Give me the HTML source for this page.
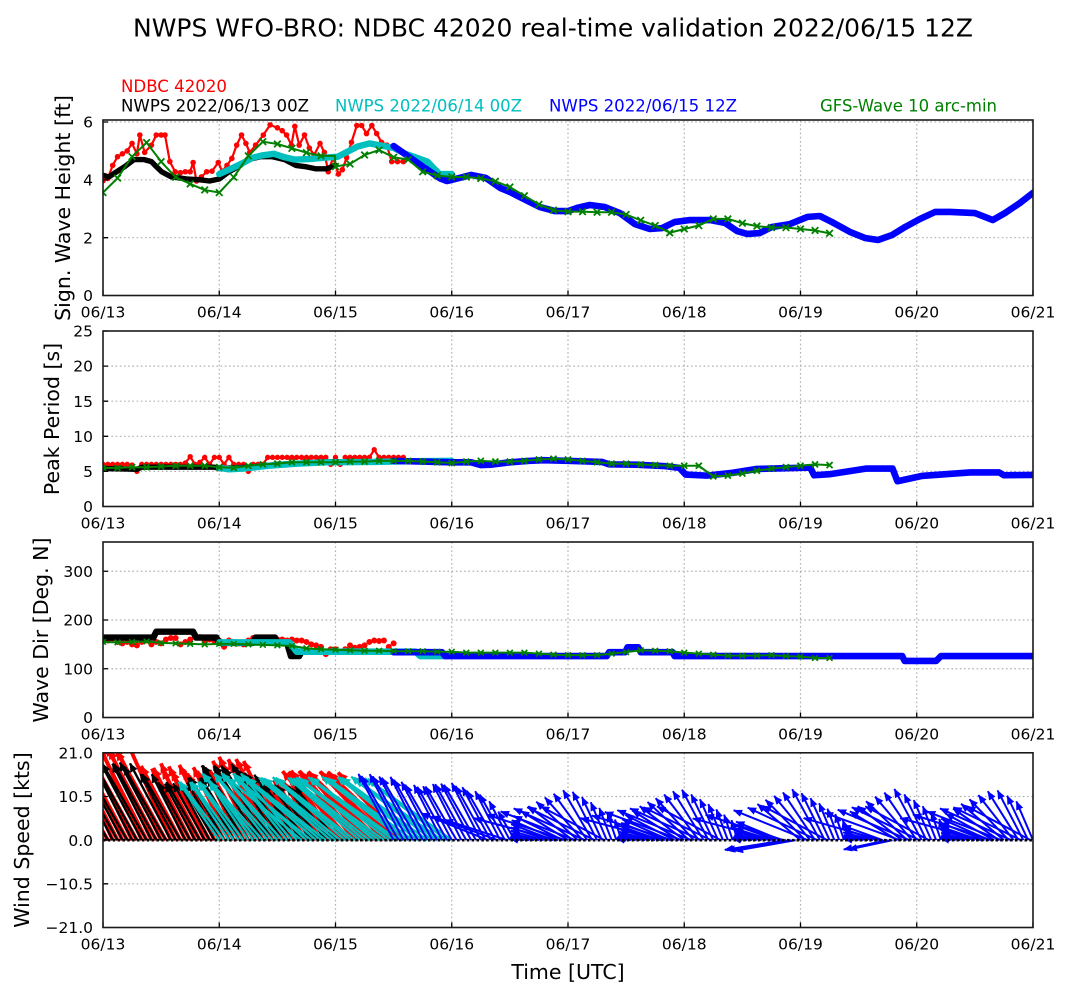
<!DOCTYPE html>
<html><head><meta charset="utf-8">
<style>
html,body{margin:0;padding:0;background:#fff;}
svg{display:block;font-family:"DejaVu Sans","Liberation Sans",sans-serif;}
.d path{vector-effect:non-scaling-stroke;}
</style></head>
<body>
<svg width="1071" height="998" viewBox="0 0 1071 998" xmlns="http://www.w3.org/2000/svg">
<defs>
<clipPath id="c0"><rect x="103" y="120" width="930" height="175.5"/></clipPath>
<clipPath id="c1"><rect x="103" y="331" width="930" height="175.5"/></clipPath>
<clipPath id="c2"><rect x="103" y="542" width="930" height="175.5"/></clipPath>
<clipPath id="c3"><rect x="103" y="752.8" width="930" height="174.7"/></clipPath>
<marker id="mr" viewBox="0 0 10 9" markerWidth="10" markerHeight="9" refX="9.5" refY="4.5" orient="auto" markerUnits="userSpaceOnUse"><path d="M0,0L10,4.5L0,9z" fill="#ff0000"/></marker>
<marker id="mk" viewBox="0 0 9 8" markerWidth="9" markerHeight="8" refX="8.5" refY="4" orient="auto" markerUnits="userSpaceOnUse"><path d="M0,0L9,4L0,8z" fill="#000000"/></marker>
<marker id="mc" viewBox="0 0 9 8" markerWidth="9" markerHeight="8" refX="8.5" refY="4" orient="auto" markerUnits="userSpaceOnUse"><path d="M0,0L9,4L0,8z" fill="#00bfbf"/></marker>
<marker id="mb" viewBox="0 0 9 7.5" markerWidth="9" markerHeight="7.5" refX="8.5" refY="3.75" orient="auto" markerUnits="userSpaceOnUse"><path d="M0,0L9,3.75L0,7.5z" fill="#0000ff"/></marker>
</defs>
<rect x="0" y="0" width="1071" height="998" fill="#fff"/>

<!-- GRID -->
<g stroke="#b0b0b0" stroke-width="1.2" stroke-dasharray="1.6 2.6">
<path d="M219.25,120V295.5M335.5,120V295.5M451.75,120V295.5M568,120V295.5M684.25,120V295.5M800.5,120V295.5M916.75,120V295.5M103,237.7H1033M103,179.8H1033M103,122H1033"/>
<path d="M219.25,331V506.5M335.5,331V506.5M451.75,331V506.5M568,331V506.5M684.25,331V506.5M800.5,331V506.5M916.75,331V506.5M103,471.4H1033M103,436.3H1033M103,401.2H1033M103,366.1H1033"/>
<path d="M219.25,542V717.5M335.5,542V717.5M451.75,542V717.5M568,542V717.5M684.25,542V717.5M800.5,542V717.5M916.75,542V717.5M103,668.75H1033M103,620H1033M103,571.25H1033"/>
<path d="M219.25,752.8V927.5M335.5,752.8V927.5M451.75,752.8V927.5M568,752.8V927.5M684.25,752.8V927.5M800.5,752.8V927.5M916.75,752.8V927.5M103,883.8H1033M103,796.5H1033"/>
</g>

<!-- PANEL 1: Hs -->
<g clip-path="url(#c0)">
<g class="d" transform="translate(103,295.5) scale(4.84375,-28.913)" fill="none" stroke-linejoin="round" stroke-linecap="round">
<path stroke="#ff0000" stroke-width="2.2" d="M0,3.97L1,4.05L2,4.5L3,4.8L4,4.9L5,5L6,5.26L7,4.9L7.6,5.55L8.6,4.95L10,5.2L11,5.55L12,5.55L12.8,5.55L13.8,4.63L14.9,4.28L16,4.25L17,4.28L18,4.28L18.6,4.6L19.3,3.96L20.3,4.1L21.4,4.28L22.5,4.3L23.8,4.6L24.6,4.3L25.6,4.5L26.6,4.74L27.6,5.2L28.6,5.55L29.5,5.26L30.3,4.95L31.5,5.2L33.1,5.55L34.5,5.9L36,5.8L37,5.7L37.9,5.55L38.9,5.2L39.6,5.85L40.5,5.2L41.6,5.55L42.6,5.1L43.6,4.86L44.8,5.26L45.7,4.95L46.5,4.28L47.5,4.77L48.6,4.2L49.4,4.35L50.3,4.77L51.3,5.3L52.4,5.88L53.4,5.88L54.4,5.6L55.5,5.88L56.5,5.6L57.5,5.3L58.6,5.2L59.6,4.63L60.8,4.63L62,4.63"/>
<path stroke="#ff0000" stroke-width="5.6" d="M0,3.97h0M1,4.05h0M2,4.5h0M3,4.8h0M4,4.9h0M5,5h0M6,5.26h0M7,4.9h0M7.6,5.55h0M8.6,4.95h0M10,5.2h0M11,5.55h0M12,5.55h0M12.8,5.55h0M13.8,4.63h0M14.9,4.28h0M16,4.25h0M17,4.28h0M18,4.28h0M18.6,4.6h0M19.3,3.96h0M20.3,4.1h0M21.4,4.28h0M22.5,4.3h0M23.8,4.6h0M24.6,4.3h0M25.6,4.5h0M26.6,4.74h0M27.6,5.2h0M28.6,5.55h0M29.5,5.26h0M30.3,4.95h0M31.5,5.2h0M33.1,5.55h0M34.5,5.9h0M36,5.8h0M37,5.7h0M37.9,5.55h0M38.9,5.2h0M39.6,5.85h0M40.5,5.2h0M41.6,5.55h0M42.6,5.1h0M43.6,4.86h0M44.8,5.26h0M45.7,4.95h0M46.5,4.28h0M47.5,4.77h0M48.6,4.2h0M49.4,4.35h0M50.3,4.77h0M51.3,5.3h0M52.4,5.88h0M53.4,5.88h0M54.4,5.6h0M55.5,5.88h0M56.5,5.6h0M57.5,5.3h0M58.6,5.2h0M59.6,4.63h0M60.8,4.63h0M62,4.63h0"/>
<path stroke="#000000" stroke-width="5.4" d="M0,4.16L1.2,4.1L2.8,4.28L4.5,4.46L6.4,4.7L8.5,4.7L10,4.63L11,4.46L12.1,4.28L14,4.11L17.2,4.03L20,4L22,3.96L24,4.03L26,4.28L28,4.46L30,4.7L32.5,4.8L35,4.8L37.5,4.7L39.8,4.5L42,4.45L44,4.38L46.1,4.38L48,4.5"/>
<path stroke="#00bfbf" stroke-width="6.4" d="M24,4.2L26,4.35L28.5,4.55L31,4.77L33,4.85L35.3,4.9L37.5,4.78L39.6,4.7L42.5,4.72L46,4.77L48.5,4.8L50.2,4.95L52.5,5.15L55,5.26L57,5.2L60,5.1L62.5,4.9L67,4.63L68,4.45L69.5,4.2L72,4.2"/>
<path stroke="#0000ff" stroke-width="6.6" d="M60,5.17L62.6,4.86L66,4.46L69.6,4.05L71,3.96L73.7,4.07L76,4.17L79,4.07L82,3.72L84,3.58L86,3.41L90.2,3.06L93.3,2.92L96,2.92L97.9,3.03L100.5,3.13L103.6,3.06L106.7,2.85L109.8,2.47L112.9,2.3L115.4,2.33L118,2.54L121.2,2.61L125.3,2.61L128.4,2.51L130.9,2.23L133,2.13L135.6,2.16L138.1,2.37L141.8,2.47L145.5,2.72L148,2.75L150.5,2.54L154.2,2.2L157.3,1.99L160,1.92L162.9,2.09L165.6,2.37L168.7,2.65L171.8,2.89L174.9,2.89L180,2.85L182,2.72L183.7,2.61L186.2,2.85L189.3,3.2L192,3.55"/>
<path stroke="#008000" stroke-width="2" d="M0,3.56L3,4.06L6,4.8L9,5.29L12,4.63L15,4.09L18,3.86L21,3.65L24,3.56L27,4.09L30,4.83L33,5.32L36,5.24L39,5.09L42,4.94L45,4.83L47.9,4.83L48,4.46L51,4.55L54,4.86L57,5.03L60,4.78L63,4.7L66,4.28L69,4.15L72,4.1L75,4.1L78,4.05L81,3.95L84,3.75L87,3.45L90,3.15L93,2.95L96,2.9L99,2.9L102,2.88L105,2.88L108,2.8L111,2.6L114,2.42L117,2.17L120,2.3L123,2.42L126,2.65L129,2.65L132,2.5L135,2.4L138,2.35L141,2.35L144,2.3L147,2.25L150,2.15"/>
<path stroke="#008000" stroke-width="1.8" stroke-linecap="butt" d="M0,3.56m-.68,-.114l1.36,.228m0,-.228l-1.36,.228M3,4.06m-.68,-.114l1.36,.228m0,-.228l-1.36,.228M6,4.8m-.68,-.114l1.36,.228m0,-.228l-1.36,.228M9,5.29m-.68,-.114l1.36,.228m0,-.228l-1.36,.228M12,4.63m-.68,-.114l1.36,.228m0,-.228l-1.36,.228M15,4.09m-.68,-.114l1.36,.228m0,-.228l-1.36,.228M18,3.86m-.68,-.114l1.36,.228m0,-.228l-1.36,.228M21,3.65m-.68,-.114l1.36,.228m0,-.228l-1.36,.228M24,3.56m-.68,-.114l1.36,.228m0,-.228l-1.36,.228M27,4.09m-.68,-.114l1.36,.228m0,-.228l-1.36,.228M30,4.83m-.68,-.114l1.36,.228m0,-.228l-1.36,.228M33,5.32m-.68,-.114l1.36,.228m0,-.228l-1.36,.228M36,5.24m-.68,-.114l1.36,.228m0,-.228l-1.36,.228M39,5.09m-.68,-.114l1.36,.228m0,-.228l-1.36,.228M42,4.94m-.68,-.114l1.36,.228m0,-.228l-1.36,.228M45,4.83m-.68,-.114l1.36,.228m0,-.228l-1.36,.228M48,4.46m-.68,-.114l1.36,.228m0,-.228l-1.36,.228M51,4.55m-.68,-.114l1.36,.228m0,-.228l-1.36,.228M54,4.86m-.68,-.114l1.36,.228m0,-.228l-1.36,.228M57,5.03m-.68,-.114l1.36,.228m0,-.228l-1.36,.228M60,4.78m-.68,-.114l1.36,.228m0,-.228l-1.36,.228M63,4.7m-.68,-.114l1.36,.228m0,-.228l-1.36,.228M66,4.28m-.68,-.114l1.36,.228m0,-.228l-1.36,.228M69,4.15m-.68,-.114l1.36,.228m0,-.228l-1.36,.228M72,4.1m-.68,-.114l1.36,.228m0,-.228l-1.36,.228M75,4.1m-.68,-.114l1.36,.228m0,-.228l-1.36,.228M78,4.05m-.68,-.114l1.36,.228m0,-.228l-1.36,.228M81,3.95m-.68,-.114l1.36,.228m0,-.228l-1.36,.228M84,3.75m-.68,-.114l1.36,.228m0,-.228l-1.36,.228M87,3.45m-.68,-.114l1.36,.228m0,-.228l-1.36,.228M90,3.15m-.68,-.114l1.36,.228m0,-.228l-1.36,.228M93,2.95m-.68,-.114l1.36,.228m0,-.228l-1.36,.228M96,2.9m-.68,-.114l1.36,.228m0,-.228l-1.36,.228M99,2.9m-.68,-.114l1.36,.228m0,-.228l-1.36,.228M102,2.88m-.68,-.114l1.36,.228m0,-.228l-1.36,.228M105,2.88m-.68,-.114l1.36,.228m0,-.228l-1.36,.228M108,2.8m-.68,-.114l1.36,.228m0,-.228l-1.36,.228M111,2.6m-.68,-.114l1.36,.228m0,-.228l-1.36,.228M114,2.42m-.68,-.114l1.36,.228m0,-.228l-1.36,.228M117,2.17m-.68,-.114l1.36,.228m0,-.228l-1.36,.228M120,2.3m-.68,-.114l1.36,.228m0,-.228l-1.36,.228M123,2.42m-.68,-.114l1.36,.228m0,-.228l-1.36,.228M126,2.65m-.68,-.114l1.36,.228m0,-.228l-1.36,.228M129,2.65m-.68,-.114l1.36,.228m0,-.228l-1.36,.228M132,2.5m-.68,-.114l1.36,.228m0,-.228l-1.36,.228M135,2.4m-.68,-.114l1.36,.228m0,-.228l-1.36,.228M138,2.35m-.68,-.114l1.36,.228m0,-.228l-1.36,.228M141,2.35m-.68,-.114l1.36,.228m0,-.228l-1.36,.228M144,2.3m-.68,-.114l1.36,.228m0,-.228l-1.36,.228M147,2.25m-.68,-.114l1.36,.228m0,-.228l-1.36,.228M150,2.15m-.68,-.114l1.36,.228m0,-.228l-1.36,.228"/>
</g></g>

<!-- PANEL 2: Tp -->
<g clip-path="url(#c1)">
<g class="d" transform="translate(103,506.5) scale(4.84375,-7.02)" fill="none" stroke-linejoin="round" stroke-linecap="round">
<path stroke="#ff0000" stroke-width="2.2" d="M0,6L1,6L2,6L3,6L4,6L5,6L6,5.9L7,5L8,6L9,6L10,6L11,6L12,6L13,6L14,6L15,6L16,6L17,6.2L18,7.1L19,6L20,6.3L21,7L22,6L23,7L24,7L25,6L26,7L27,6L28,6L29,6L30,5L31,6L32,6L33,6L34,7L35,7L36,7L37,7L38,7L39,7L40,7L41,7L42,7L43,7L44,7L45,7L46,7L47,6L48,7L49,6L50,7L51,7L52,7L53,7L54,7L55,7L56,8.1L57,7L58,7L59,7L60,7L61,7L62,7"/>
<path stroke="#ff0000" stroke-width="5.4" d="M0,6h0M1,6h0M2,6h0M3,6h0M4,6h0M5,6h0M6,5.9h0M7,5h0M8,6h0M9,6h0M10,6h0M11,6h0M12,6h0M13,6h0M14,6h0M15,6h0M16,6h0M17,6.2h0M18,7.1h0M19,6h0M20,6.3h0M21,7h0M22,6h0M23,7h0M24,7h0M25,6h0M26,7h0M27,6h0M28,6h0M29,6h0M30,5h0M31,6h0M32,6h0M33,6h0M34,7h0M35,7h0M36,7h0M37,7h0M38,7h0M39,7h0M40,7h0M41,7h0M42,7h0M43,7h0M44,7h0M45,7h0M46,7h0M47,6h0M48,7h0M49,6h0M50,7h0M51,7h0M52,7h0M53,7h0M54,7h0M55,7h0M56,8.1h0M57,7h0M58,7h0M59,7h0M60,7h0M61,7h0M62,7h0"/>
<path stroke="#000000" stroke-width="5.4" d="M0,5.4L7,5.3L8,5.6L23,5.6L24,5.4L30,5.6L36,6L42,6.2L48,6.4"/>
<path stroke="#00bfbf" stroke-width="6.4" d="M24,5.5L26,5.3L29,5.4L34,5.8L40,6.1L46,6.3L56,6.35L64,6.45L72,6.5"/>
<path stroke="#0000ff" stroke-width="6.6" d="M60,6.5L72,6.3L76,6.3L78,5.9L80,5.95L84,6.3L88,6.5L91,6.6L96,6.5L103,6.35L104.5,6L110,5.95L116,5.75L119,5.5L120.3,4.55L124.6,4.4L130,4.8L135,5.35L146,5.55L146.8,4.45L150,4.6L157.5,5.4L163,5.4L164,3.6L169,4.35L179,4.85L185,4.85L186,4.45L192,4.5"/>
<path stroke="#008000" stroke-width="2" d="M0,5.5L3,5.5L6,5.6L9,5.6L12,5.7L15,5.8L18,5.8L21,5.8L24,5.6L27,5.5L30,5.8L33,6L36,6.1L39,6.3L42,6.3L45,6.3L48,6.3L51,6.4L54,6.4L57,6.5L60,6.5L63,6.5L66,6.4L69,6.3L72,6.2L75,6.4L78,6.5L81,6.4L84,6.4L87,6.5L90,6.7L93,6.8L96,6.7L99,6.5L102,6.3L105,6.1L108,6.1L111,6L114,5.9L117,5.8L120,5.8L123,5.8L126,4.3L129,4.4L132,4.7L135,5.1L138,5.4L141,5.6L144,5.8L147,6L150,5.9"/>
<path stroke="#008000" stroke-width="1.8" stroke-linecap="butt" d="M0,5.5m-.62,-.43l1.24,.86m0,-.86l-1.24,.86M3,5.5m-.62,-.43l1.24,.86m0,-.86l-1.24,.86M6,5.6m-.62,-.43l1.24,.86m0,-.86l-1.24,.86M9,5.6m-.62,-.43l1.24,.86m0,-.86l-1.24,.86M12,5.7m-.62,-.43l1.24,.86m0,-.86l-1.24,.86M15,5.8m-.62,-.43l1.24,.86m0,-.86l-1.24,.86M18,5.8m-.62,-.43l1.24,.86m0,-.86l-1.24,.86M21,5.8m-.62,-.43l1.24,.86m0,-.86l-1.24,.86M24,5.6m-.62,-.43l1.24,.86m0,-.86l-1.24,.86M27,5.5m-.62,-.43l1.24,.86m0,-.86l-1.24,.86M30,5.8m-.62,-.43l1.24,.86m0,-.86l-1.24,.86M33,6m-.62,-.43l1.24,.86m0,-.86l-1.24,.86M36,6.1m-.62,-.43l1.24,.86m0,-.86l-1.24,.86M39,6.3m-.62,-.43l1.24,.86m0,-.86l-1.24,.86M42,6.3m-.62,-.43l1.24,.86m0,-.86l-1.24,.86M45,6.3m-.62,-.43l1.24,.86m0,-.86l-1.24,.86M48,6.3m-.62,-.43l1.24,.86m0,-.86l-1.24,.86M51,6.4m-.62,-.43l1.24,.86m0,-.86l-1.24,.86M54,6.4m-.62,-.43l1.24,.86m0,-.86l-1.24,.86M57,6.5m-.62,-.43l1.24,.86m0,-.86l-1.24,.86M60,6.5m-.62,-.43l1.24,.86m0,-.86l-1.24,.86M63,6.5m-.62,-.43l1.24,.86m0,-.86l-1.24,.86M66,6.4m-.62,-.43l1.24,.86m0,-.86l-1.24,.86M69,6.3m-.62,-.43l1.24,.86m0,-.86l-1.24,.86M72,6.2m-.62,-.43l1.24,.86m0,-.86l-1.24,.86M75,6.4m-.62,-.43l1.24,.86m0,-.86l-1.24,.86M78,6.5m-.62,-.43l1.24,.86m0,-.86l-1.24,.86M81,6.4m-.62,-.43l1.24,.86m0,-.86l-1.24,.86M84,6.4m-.62,-.43l1.24,.86m0,-.86l-1.24,.86M87,6.5m-.62,-.43l1.24,.86m0,-.86l-1.24,.86M90,6.7m-.62,-.43l1.24,.86m0,-.86l-1.24,.86M93,6.8m-.62,-.43l1.24,.86m0,-.86l-1.24,.86M96,6.7m-.62,-.43l1.24,.86m0,-.86l-1.24,.86M99,6.5m-.62,-.43l1.24,.86m0,-.86l-1.24,.86M102,6.3m-.62,-.43l1.24,.86m0,-.86l-1.24,.86M105,6.1m-.62,-.43l1.24,.86m0,-.86l-1.24,.86M108,6.1m-.62,-.43l1.24,.86m0,-.86l-1.24,.86M111,6m-.62,-.43l1.24,.86m0,-.86l-1.24,.86M114,5.9m-.62,-.43l1.24,.86m0,-.86l-1.24,.86M117,5.8m-.62,-.43l1.24,.86m0,-.86l-1.24,.86M120,5.8m-.62,-.43l1.24,.86m0,-.86l-1.24,.86M123,5.8m-.62,-.43l1.24,.86m0,-.86l-1.24,.86M126,4.3m-.62,-.43l1.24,.86m0,-.86l-1.24,.86M129,4.4m-.62,-.43l1.24,.86m0,-.86l-1.24,.86M132,4.7m-.62,-.43l1.24,.86m0,-.86l-1.24,.86M135,5.1m-.62,-.43l1.24,.86m0,-.86l-1.24,.86M138,5.4m-.62,-.43l1.24,.86m0,-.86l-1.24,.86M141,5.6m-.62,-.43l1.24,.86m0,-.86l-1.24,.86M144,5.8m-.62,-.43l1.24,.86m0,-.86l-1.24,.86M147,6m-.62,-.43l1.24,.86m0,-.86l-1.24,.86M150,5.9m-.62,-.43l1.24,.86m0,-.86l-1.24,.86"/>
</g></g>

<!-- PANEL 3: Dir -->
<g clip-path="url(#c2)">
<g class="d" transform="translate(103,717.5) scale(4.84375,-0.4875)" fill="none" stroke-linejoin="round" stroke-linecap="round">
<path stroke="#ff0000" stroke-width="6" d="M0,160h0M1,158h0M2,162h0M3,155h0M4,152h0M5,155h0M6,150h0M7,148h0M8,155h0M9,158h0M10,150h0M11,155h0M12,152h0M13,160h0M14,163h0M15,163h0M16,150h0M17,155h0M18,160h0M19,170h0M20,165h0M21,158h0M22,160h0M23,157h0M24,158h0M25,145h0M26,158h0M27,155h0M28,152h0M29,150h0M30,158h0M31,163h0M32,160h0M33,158h0M34,160h0M35,158h0M36,160h0M37,160h0M38,158h0M39,160h0M40,158h0M41,158h0M42,155h0M43,150h0M44,148h0M45,145h0M46,130h0M47,140h0M48,140h0M49,135h0M50,140h0M51,148h0M52,143h0M53,145h0M54,148h0M55,155h0M56,158h0M57,157h0M58,158h0M59,145h0M60,152h0"/>
<path stroke="#000000" stroke-width="6.4" d="M0,164L10.4,164L11,176L18.6,176L19.2,164L23.4,164L24,153L31,153L31.5,164L35.5,164L36,153L38,153L38.8,126L40.5,126L41,135L48,135"/>
<path stroke="#00bfbf" stroke-width="6.6" d="M24,154L38.5,154L40,135L64.5,135L65.5,126L71,126"/>
<path stroke="#0000ff" stroke-width="6.6" d="M60,134L70,134L70.6,126L104,126L104.5,134L107.8,134L108.3,144L110.5,144L111,134L117.6,134L118,126L165,126L165.5,116L172,116L173,126L192,126"/>
<path stroke="#008000" stroke-width="2" d="M0,155L3,154L6,155L9,156L12,153L15,152L18,151L21,150L24,151L27,151L30,150L33,149L36,148L39,147L42,142L45,140L48,139L51,138L54,137L57,137L60,136L63,136L66,136L69,135L72,135L75,133L78,133L81,133L84,133L87,133L90,131L93,129L96,128L99,128L102,128L105,131L108,134L111,138L114,137L117,136L120,133L123,131L126,129L129,127L132,127L135,127L138,128L141,126L144,125L147,122L150,122"/>
<path stroke="#008000" stroke-width="1.6" stroke-linecap="butt" d="M0,155m-.6,-5.7l1.2,11.4m0,-11.4l-1.2,11.4M3,154m-.6,-5.7l1.2,11.4m0,-11.4l-1.2,11.4M6,155m-.6,-5.7l1.2,11.4m0,-11.4l-1.2,11.4M9,156m-.6,-5.7l1.2,11.4m0,-11.4l-1.2,11.4M12,153m-.6,-5.7l1.2,11.4m0,-11.4l-1.2,11.4M15,152m-.6,-5.7l1.2,11.4m0,-11.4l-1.2,11.4M18,151m-.6,-5.7l1.2,11.4m0,-11.4l-1.2,11.4M21,150m-.6,-5.7l1.2,11.4m0,-11.4l-1.2,11.4M24,151m-.6,-5.7l1.2,11.4m0,-11.4l-1.2,11.4M27,151m-.6,-5.7l1.2,11.4m0,-11.4l-1.2,11.4M30,150m-.6,-5.7l1.2,11.4m0,-11.4l-1.2,11.4M33,149m-.6,-5.7l1.2,11.4m0,-11.4l-1.2,11.4M36,148m-.6,-5.7l1.2,11.4m0,-11.4l-1.2,11.4M39,147m-.6,-5.7l1.2,11.4m0,-11.4l-1.2,11.4M42,142m-.6,-5.7l1.2,11.4m0,-11.4l-1.2,11.4M45,140m-.6,-5.7l1.2,11.4m0,-11.4l-1.2,11.4M48,139m-.6,-5.7l1.2,11.4m0,-11.4l-1.2,11.4M51,138m-.6,-5.7l1.2,11.4m0,-11.4l-1.2,11.4M54,137m-.6,-5.7l1.2,11.4m0,-11.4l-1.2,11.4M57,137m-.6,-5.7l1.2,11.4m0,-11.4l-1.2,11.4M60,136m-.6,-5.7l1.2,11.4m0,-11.4l-1.2,11.4M63,136m-.6,-5.7l1.2,11.4m0,-11.4l-1.2,11.4M66,136m-.6,-5.7l1.2,11.4m0,-11.4l-1.2,11.4M69,135m-.6,-5.7l1.2,11.4m0,-11.4l-1.2,11.4M72,135m-.6,-5.7l1.2,11.4m0,-11.4l-1.2,11.4M75,133m-.6,-5.7l1.2,11.4m0,-11.4l-1.2,11.4M78,133m-.6,-5.7l1.2,11.4m0,-11.4l-1.2,11.4M81,133m-.6,-5.7l1.2,11.4m0,-11.4l-1.2,11.4M84,133m-.6,-5.7l1.2,11.4m0,-11.4l-1.2,11.4M87,133m-.6,-5.7l1.2,11.4m0,-11.4l-1.2,11.4M90,131m-.6,-5.7l1.2,11.4m0,-11.4l-1.2,11.4M93,129m-.6,-5.7l1.2,11.4m0,-11.4l-1.2,11.4M96,128m-.6,-5.7l1.2,11.4m0,-11.4l-1.2,11.4M99,128m-.6,-5.7l1.2,11.4m0,-11.4l-1.2,11.4M102,128m-.6,-5.7l1.2,11.4m0,-11.4l-1.2,11.4M105,131m-.6,-5.7l1.2,11.4m0,-11.4l-1.2,11.4M108,134m-.6,-5.7l1.2,11.4m0,-11.4l-1.2,11.4M111,138m-.6,-5.7l1.2,11.4m0,-11.4l-1.2,11.4M114,137m-.6,-5.7l1.2,11.4m0,-11.4l-1.2,11.4M117,136m-.6,-5.7l1.2,11.4m0,-11.4l-1.2,11.4M120,133m-.6,-5.7l1.2,11.4m0,-11.4l-1.2,11.4M123,131m-.6,-5.7l1.2,11.4m0,-11.4l-1.2,11.4M126,129m-.6,-5.7l1.2,11.4m0,-11.4l-1.2,11.4M129,127m-.6,-5.7l1.2,11.4m0,-11.4l-1.2,11.4M132,127m-.6,-5.7l1.2,11.4m0,-11.4l-1.2,11.4M135,127m-.6,-5.7l1.2,11.4m0,-11.4l-1.2,11.4M138,128m-.6,-5.7l1.2,11.4m0,-11.4l-1.2,11.4M141,126m-.6,-5.7l1.2,11.4m0,-11.4l-1.2,11.4M144,125m-.6,-5.7l1.2,11.4m0,-11.4l-1.2,11.4M147,122m-.6,-5.7l1.2,11.4m0,-11.4l-1.2,11.4M150,122m-.6,-5.7l1.2,11.4m0,-11.4l-1.2,11.4"/>
</g></g>

<!-- PANEL 4: wind quiver -->
<g clip-path="url(#c3)">
<g transform="translate(103,840.15) scale(4.84375,1)" fill="none">
<g stroke="#ff0000" stroke-width="3.8" marker-end="url(#mr)">
<path transform="translate(0,0)scale(.206452,1)rotate(64)" d="M0 0H-104"/>
<path transform="translate(1,0)scale(.206452,1)rotate(61)" d="M0 0H-100"/>
<path transform="translate(2,0)scale(.206452,1)rotate(66)" d="M0 0H-108"/>
<path transform="translate(3,0)scale(.206452,1)rotate(63)" d="M0 0H-104"/>
<path transform="translate(4,0)scale(.206452,1)rotate(65)" d="M0 0H-100"/>
<path transform="translate(5,0)scale(.206452,1)rotate(62)" d="M0 0H-108"/>
<path transform="translate(6,0)scale(.206452,1)rotate(64)" d="M0 0H-104"/>
<path transform="translate(7,0)scale(.206452,1)rotate(61)" d="M0 0H-100"/>
<path transform="translate(8,0)scale(.206452,1)rotate(66)" d="M0 0H-106"/>
<path transform="translate(9,0)scale(.206452,1)rotate(63)" d="M0 0H-104"/>
<path transform="translate(10,0)scale(.206452,1)rotate(65)" d="M0 0H-100"/>
<path transform="translate(11,0)scale(.206452,1)rotate(62)" d="M0 0H-106"/>
<path transform="translate(12,0)scale(.206452,1)rotate(64)" d="M0 0H-104"/>
<path transform="translate(13,0)scale(.206452,1)rotate(61)" d="M0 0H-102"/>
<path transform="translate(14,0)scale(.206452,1)rotate(66)" d="M0 0H-106"/>
<path transform="translate(15,0)scale(.206452,1)rotate(64)" d="M0 0H-81"/>
<path transform="translate(16,0)scale(.206452,1)rotate(62)" d="M0 0H-84"/>
<path transform="translate(17,0)scale(.206452,1)rotate(65)" d="M0 0H-79"/>
<path transform="translate(18,0)scale(.206452,1)rotate(63)" d="M0 0H-81"/>
<path transform="translate(19,0)scale(.206452,1)rotate(66)" d="M0 0H-84"/>
<path transform="translate(20,0)scale(.206452,1)rotate(62)" d="M0 0H-80"/>
<path transform="translate(21,0)scale(.206452,1)rotate(64)" d="M0 0H-82"/>
<path transform="translate(22,0)scale(.206452,1)rotate(61)" d="M0 0H-79"/>
<path transform="translate(23,0)scale(.206452,1)rotate(65)" d="M0 0H-83"/>
<path transform="translate(24,0)scale(.206452,1)rotate(63)" d="M0 0H-79"/>
<path transform="translate(25,0)scale(.206452,1)rotate(61)" d="M0 0H-76"/>
<path transform="translate(26,0)scale(.206452,1)rotate(64)" d="M0 0H-81"/>
<path transform="translate(27,0)scale(.206452,1)rotate(62)" d="M0 0H-78"/>
<path transform="translate(28,0)scale(.206452,1)rotate(65)" d="M0 0H-80"/>
<path transform="translate(29,0)scale(.206452,1)rotate(63)" d="M0 0H-77"/>
<path transform="translate(30,0)scale(.206452,1)rotate(61)" d="M0 0H-80"/>
<path transform="translate(31,0)scale(.206452,1)rotate(63)" d="M0 0H-89"/>
<path transform="translate(32,0)scale(.206452,1)rotate(65)" d="M0 0H-92"/>
<path transform="translate(33,0)scale(.206452,1)rotate(62)" d="M0 0H-87"/>
<path transform="translate(34,0)scale(.206452,1)rotate(64)" d="M0 0H-90"/>
<path transform="translate(35,0)scale(.206452,1)rotate(61)" d="M0 0H-88"/>
<path transform="translate(36,0)scale(.206452,1)rotate(63)" d="M0 0H-91"/>
<path transform="translate(37,0)scale(.206452,1)rotate(64)" d="M0 0H-88"/>
<path transform="translate(38,0)scale(.206452,1)rotate(57)" d="M0 0H-69"/>
<path transform="translate(39,0)scale(.206452,1)rotate(59)" d="M0 0H-72"/>
<path transform="translate(40,0)scale(.206452,1)rotate(55)" d="M0 0H-67"/>
<path transform="translate(41,0)scale(.206452,1)rotate(58)" d="M0 0H-70"/>
<path transform="translate(42,0)scale(.206452,1)rotate(56)" d="M0 0H-68"/>
<path transform="translate(43,0)scale(.206452,1)rotate(58)" d="M0 0H-71"/>
<path transform="translate(44,0)scale(.206452,1)rotate(55)" d="M0 0H-68"/>
<path transform="translate(45,0)scale(.206452,1)rotate(57)" d="M0 0H-70"/>
<path transform="translate(46,0)scale(.206452,1)rotate(59)" d="M0 0H-67"/>
<path transform="translate(47,0)scale(.206452,1)rotate(56)" d="M0 0H-72"/>
<path transform="translate(48,0)scale(.206452,1)rotate(57)" d="M0 0H-69"/>
<path transform="translate(49,0)scale(.206452,1)rotate(50)" d="M0 0H-90"/>
<path transform="translate(50,0)scale(.206452,1)rotate(52)" d="M0 0H-88"/>
<path transform="translate(51,0)scale(.206452,1)rotate(48)" d="M0 0H-92"/>
<path transform="translate(52,0)scale(.206452,1)rotate(51)" d="M0 0H-89"/>
<path transform="translate(53,0)scale(.206452,1)rotate(49)" d="M0 0H-91"/>
<path transform="translate(54,0)scale(.206452,1)rotate(50)" d="M0 0H-88"/>
<path transform="translate(55,0)scale(.206452,1)rotate(48)" d="M0 0H-92"/>
<path transform="translate(56,0)scale(.206452,1)rotate(46)" d="M0 0H-95"/>
<path transform="translate(57,0)scale(.206452,1)rotate(44)" d="M0 0H-98"/>
<path transform="translate(58,0)scale(.206452,1)rotate(47)" d="M0 0H-94"/>
<path transform="translate(59,0)scale(.206452,1)rotate(45)" d="M0 0H-96"/>
<path transform="translate(60,0)scale(.206452,1)rotate(46)" d="M0 0H-95"/>
<path transform="translate(61,0)scale(.206452,1)rotate(44)" d="M0 0H-97"/>
<path transform="translate(62,0)scale(.206452,1)rotate(46)" d="M0 0H-94"/>
</g>
<g stroke="#000000" stroke-width="2.4" marker-end="url(#mk)">
<path transform="translate(0,0)scale(.206452,1)rotate(62)" d="M0 0H-87"/>
<path transform="translate(1,0)scale(.206452,1)rotate(60)" d="M0 0H-85"/>
<path transform="translate(2,0)scale(.206452,1)rotate(63)" d="M0 0H-88"/>
<path transform="translate(3,0)scale(.206452,1)rotate(61)" d="M0 0H-86"/>
<path transform="translate(4,0)scale(.206452,1)rotate(62)" d="M0 0H-89"/>
<path transform="translate(5,0)scale(.206452,1)rotate(60)" d="M0 0H-85"/>
<path transform="translate(6,0)scale(.206452,1)rotate(63)" d="M0 0H-87"/>
<path transform="translate(7,0)scale(.206452,1)rotate(61)" d="M0 0H-88"/>
<path transform="translate(8,0)scale(.206452,1)rotate(62)" d="M0 0H-86"/>
<path transform="translate(9,0)scale(.206452,1)rotate(60)" d="M0 0H-88"/>
<path transform="translate(10,0)scale(.206452,1)rotate(63)" d="M0 0H-86"/>
<path transform="translate(11,0)scale(.206452,1)rotate(61)" d="M0 0H-87"/>
<path transform="translate(12,0)scale(.206452,1)rotate(62)" d="M0 0H-88"/>
<path transform="translate(13,0)scale(.206452,1)rotate(60)" d="M0 0H-85"/>
<path transform="translate(14,0)scale(.206452,1)rotate(62)" d="M0 0H-87"/>
<path transform="translate(15,0)scale(.206452,1)rotate(62)" d="M0 0H-75"/>
<path transform="translate(16,0)scale(.206452,1)rotate(60)" d="M0 0H-76"/>
<path transform="translate(17,0)scale(.206452,1)rotate(63)" d="M0 0H-74"/>
<path transform="translate(18,0)scale(.206452,1)rotate(61)" d="M0 0H-66"/>
<path transform="translate(19,0)scale(.206452,1)rotate(62)" d="M0 0H-64"/>
<path transform="translate(20,0)scale(.206452,1)rotate(60)" d="M0 0H-67"/>
<path transform="translate(21,0)scale(.206452,1)rotate(61)" d="M0 0H-65"/>
<path transform="translate(22,0)scale(.206452,1)rotate(62)" d="M0 0H-66"/>
<path transform="translate(23,0)scale(.206452,1)rotate(60)" d="M0 0H-64"/>
<path transform="translate(24,0)scale(.206452,1)rotate(61)" d="M0 0H-66"/>
<path transform="translate(25,0)scale(.206452,1)rotate(60)" d="M0 0H-72"/>
<path transform="translate(26,0)scale(.206452,1)rotate(58)" d="M0 0H-74"/>
<path transform="translate(27,0)scale(.206452,1)rotate(61)" d="M0 0H-71"/>
<path transform="translate(28,0)scale(.206452,1)rotate(59)" d="M0 0H-73"/>
<path transform="translate(29,0)scale(.206452,1)rotate(60)" d="M0 0H-72"/>
<path transform="translate(30,0)scale(.206452,1)rotate(58)" d="M0 0H-88"/>
<path transform="translate(31,0)scale(.206452,1)rotate(56)" d="M0 0H-90"/>
<path transform="translate(32,0)scale(.206452,1)rotate(59)" d="M0 0H-86"/>
<path transform="translate(33,0)scale(.206452,1)rotate(57)" d="M0 0H-89"/>
<path transform="translate(34,0)scale(.206452,1)rotate(58)" d="M0 0H-88"/>
<path transform="translate(35,0)scale(.206452,1)rotate(56)" d="M0 0H-87"/>
<path transform="translate(36,0)scale(.206452,1)rotate(59)" d="M0 0H-89"/>
<path transform="translate(37,0)scale(.206452,1)rotate(57)" d="M0 0H-86"/>
<path transform="translate(38,0)scale(.206452,1)rotate(56)" d="M0 0H-80"/>
<path transform="translate(39,0)scale(.206452,1)rotate(55)" d="M0 0H-82"/>
<path transform="translate(40,0)scale(.206452,1)rotate(57)" d="M0 0H-78"/>
<path transform="translate(41,0)scale(.206452,1)rotate(53)" d="M0 0H-68"/>
<path transform="translate(42,0)scale(.206452,1)rotate(52)" d="M0 0H-70"/>
<path transform="translate(43,0)scale(.206452,1)rotate(54)" d="M0 0H-67"/>
<path transform="translate(44,0)scale(.206452,1)rotate(53)" d="M0 0H-69"/>
<path transform="translate(45,0)scale(.206452,1)rotate(51)" d="M0 0H-70"/>
<path transform="translate(46,0)scale(.206452,1)rotate(54)" d="M0 0H-66"/>
<path transform="translate(47,0)scale(.206452,1)rotate(52)" d="M0 0H-68"/>
<path transform="translate(48,0)scale(.206452,1)rotate(53)" d="M0 0H-67"/>
</g>
<g stroke="#00bfbf" stroke-width="2.4" marker-end="url(#mc)">
<path transform="translate(24,0)scale(.206452,1)rotate(55)" d="M0 0H-71"/>
<path transform="translate(25,0)scale(.206452,1)rotate(53)" d="M0 0H-73"/>
<path transform="translate(26,0)scale(.206452,1)rotate(56)" d="M0 0H-70"/>
<path transform="translate(27,0)scale(.206452,1)rotate(54)" d="M0 0H-72"/>
<path transform="translate(28,0)scale(.206452,1)rotate(55)" d="M0 0H-71"/>
<path transform="translate(29,0)scale(.206452,1)rotate(53)" d="M0 0H-73"/>
<path transform="translate(30,0)scale(.206452,1)rotate(56)" d="M0 0H-70"/>
<path transform="translate(31,0)scale(.206452,1)rotate(54)" d="M0 0H-72"/>
<path transform="translate(32,0)scale(.206452,1)rotate(50)" d="M0 0H-87"/>
<path transform="translate(33,0)scale(.206452,1)rotate(48)" d="M0 0H-89"/>
<path transform="translate(34,0)scale(.206452,1)rotate(51)" d="M0 0H-85"/>
<path transform="translate(35,0)scale(.206452,1)rotate(49)" d="M0 0H-88"/>
<path transform="translate(36,0)scale(.206452,1)rotate(50)" d="M0 0H-87"/>
<path transform="translate(37,0)scale(.206452,1)rotate(48)" d="M0 0H-90"/>
<path transform="translate(38,0)scale(.206452,1)rotate(51)" d="M0 0H-86"/>
<path transform="translate(39,0)scale(.206452,1)rotate(49)" d="M0 0H-88"/>
<path transform="translate(40,0)scale(.206452,1)rotate(50)" d="M0 0H-87"/>
<path transform="translate(41,0)scale(.206452,1)rotate(40)" d="M0 0H-97"/>
<path transform="translate(42,0)scale(.206452,1)rotate(42)" d="M0 0H-95"/>
<path transform="translate(43,0)scale(.206452,1)rotate(39)" d="M0 0H-98"/>
<path transform="translate(44,0)scale(.206452,1)rotate(41)" d="M0 0H-96"/>
<path transform="translate(45,0)scale(.206452,1)rotate(40)" d="M0 0H-97"/>
<path transform="translate(46,0)scale(.206452,1)rotate(38)" d="M0 0H-99"/>
<path transform="translate(47,0)scale(.206452,1)rotate(41)" d="M0 0H-95"/>
<path transform="translate(48,0)scale(.206452,1)rotate(40)" d="M0 0H-97"/>
<path transform="translate(49,0)scale(.206452,1)rotate(39)" d="M0 0H-98"/>
<path transform="translate(50,0)scale(.206452,1)rotate(41)" d="M0 0H-96"/>
<path transform="translate(51,0)scale(.206452,1)rotate(40)" d="M0 0H-97"/>
<path transform="translate(52,0)scale(.206452,1)rotate(38)" d="M0 0H-99"/>
<path transform="translate(53,0)scale(.206452,1)rotate(41)" d="M0 0H-95"/>
<path transform="translate(54,0)scale(.206452,1)rotate(40)" d="M0 0H-97"/>
<path transform="translate(55,0)scale(.206452,1)rotate(39)" d="M0 0H-98"/>
<path transform="translate(56,0)scale(.206452,1)rotate(40)" d="M0 0H-96"/>
<path transform="translate(57,0)scale(.206452,1)rotate(37)" d="M0 0H-104"/>
<path transform="translate(58,0)scale(.206452,1)rotate(36)" d="M0 0H-106"/>
<path transform="translate(59,0)scale(.206452,1)rotate(38)" d="M0 0H-102"/>
<path transform="translate(60,0)scale(.206452,1)rotate(37)" d="M0 0H-104"/>
<path transform="translate(61,0)scale(.206452,1)rotate(35)" d="M0 0H-107"/>
<path transform="translate(62,0)scale(.206452,1)rotate(38)" d="M0 0H-103"/>
<path transform="translate(63,0)scale(.206452,1)rotate(37)" d="M0 0H-104"/>
<path transform="translate(64,0)scale(.206452,1)rotate(36)" d="M0 0H-105"/>
<path transform="translate(65,0)scale(.206452,1)rotate(38)" d="M0 0H-102"/>
<path transform="translate(66,0)scale(.206452,1)rotate(37)" d="M0 0H-104"/>
<path transform="translate(67,0)scale(.206452,1)rotate(36)" d="M0 0H-106"/>
<path transform="translate(68,0)scale(.206452,1)rotate(38)" d="M0 0H-103"/>
<path transform="translate(69,0)scale(.206452,1)rotate(37)" d="M0 0H-104"/>
<path transform="translate(70,0)scale(.206452,1)rotate(35)" d="M0 0H-106"/>
<path transform="translate(71,0)scale(.206452,1)rotate(37)" d="M0 0H-103"/>
<path transform="translate(72,0)scale(.206452,1)rotate(36)" d="M0 0H-104"/>
</g>
<g stroke="#0000ff" stroke-width="2" marker-end="url(#mb)">
<path transform="translate(60,0)scale(.206452,1)rotate(62)" d="M0 0H-75"/>
<path transform="translate(61,0)scale(.206452,1)rotate(60)" d="M0 0H-74"/>
<path transform="translate(62,0)scale(.206452,1)rotate(63)" d="M0 0H-74"/>
<path transform="translate(63,0)scale(.206452,1)rotate(61)" d="M0 0H-73"/>
<path transform="translate(64,0)scale(.206452,1)rotate(62)" d="M0 0H-72"/>
<path transform="translate(65,0)scale(.206452,1)rotate(60)" d="M0 0H-72"/>
<path transform="translate(66,0)scale(.206452,1)rotate(63)" d="M0 0H-71"/>
<path transform="translate(67,0)scale(.206452,1)rotate(61)" d="M0 0H-69"/>
<path transform="translate(68,0)scale(.206452,1)rotate(62)" d="M0 0H-66"/>
<path transform="translate(69,0)scale(.206452,1)rotate(60)" d="M0 0H-64"/>
<path transform="translate(70,0)scale(.206452,1)rotate(63)" d="M0 0H-62"/>
<path transform="translate(71,0)scale(.206452,1)rotate(61)" d="M0 0H-61"/>
<path transform="translate(72,0)scale(.206452,1)rotate(62)" d="M0 0H-61"/>
<path transform="translate(73,0)scale(.206452,1)rotate(60)" d="M0 0H-62"/>
<path transform="translate(74,0)scale(.206452,1)rotate(63)" d="M0 0H-63"/>
<path transform="translate(75,0)scale(.206452,1)rotate(61)" d="M0 0H-64"/>
<path transform="translate(76,0)scale(.206452,1)rotate(62)" d="M0 0H-64"/>
<path transform="translate(77,0)scale(.206452,1)rotate(60)" d="M0 0H-64"/>
<path transform="translate(78,0)scale(.206452,1)rotate(63)" d="M0 0H-64"/>
<path transform="translate(79,0)scale(.206452,1)rotate(61)" d="M0 0H-62"/>
<path transform="translate(80,0)scale(.206452,1)rotate(62)" d="M0 0H-60"/>
<path transform="translate(81,0)scale(.206452,1)rotate(60)" d="M0 0H-57"/>
<path transform="translate(82,0)scale(.206452,1)rotate(63)" d="M0 0H-55"/>
<path transform="translate(83,0)scale(.206452,1)rotate(61)" d="M0 0H-52"/>
<path transform="translate(84,0)scale(.206452,1)rotate(62)" d="M0 0H-44"/>
<path transform="translate(85,0)scale(.206452,1)rotate(60)" d="M0 0H-33"/>
<path transform="translate(79.5,0)scale(.206452,1)rotate(22)" d="M0 0H-72"/>
<path transform="translate(81.5,0)scale(.206452,1)rotate(20)" d="M0 0H-70"/>
<path transform="translate(83.5,0)scale(.206452,1)rotate(18)" d="M0 0H-66"/>
<path transform="translate(86,0)scale(.206452,1)rotate(10)" d="M0 0H-10"/>
<path transform="translate(87,0)scale(.206452,1)rotate(10.6)" d="M0 0H-14.5"/>
<path transform="translate(88,0)scale(.206452,1)rotate(11.2)" d="M0 0H-19"/>
<path transform="translate(89,0)scale(.206452,1)rotate(11.8)" d="M0 0H-23.6"/>
<path transform="translate(90,0)scale(.206452,1)rotate(13.7)" d="M0 0H-28.8"/>
<path transform="translate(91,0)scale(.206452,1)rotate(16)" d="M0 0H-34.3"/>
<path transform="translate(92,0)scale(.206452,1)rotate(18.4)" d="M0 0H-39.8"/>
<path transform="translate(93,0)scale(.206452,1)rotate(20.7)" d="M0 0H-45.2"/>
<path transform="translate(94,0)scale(.206452,1)rotate(23.1)" d="M0 0H-50.7"/>
<path transform="translate(95,0)scale(.206452,1)rotate(26.1)" d="M0 0H-55.1"/>
<path transform="translate(96,0)scale(.206452,1)rotate(31.8)" d="M0 0H-55.5"/>
<path transform="translate(97,0)scale(.206452,1)rotate(37.3)" d="M0 0H-56"/>
<path transform="translate(98,0)scale(.206452,1)rotate(42.9)" d="M0 0H-56.5"/>
<path transform="translate(99,0)scale(.206452,1)rotate(48.6)" d="M0 0H-56.9"/>
<path transform="translate(100,0)scale(.206452,1)rotate(54.1)" d="M0 0H-57.4"/>
<path transform="translate(101,0)scale(.206452,1)rotate(59.8)" d="M0 0H-57.8"/>
<path transform="translate(102,0)scale(.206452,1)rotate(63.2)" d="M0 0H-54.1"/>
<path transform="translate(103,0)scale(.206452,1)rotate(65.2)" d="M0 0H-47.5"/>
<path transform="translate(104,0)scale(.206452,1)rotate(67.1)" d="M0 0H-41.1"/>
<path transform="translate(105,0)scale(.206452,1)rotate(69.1)" d="M0 0H-34.5"/>
<path transform="translate(106,0)scale(.206452,1)rotate(71.1)" d="M0 0H-28"/>
<path transform="translate(107,0)scale(.206452,1)rotate(73)" d="M0 0H-21.5"/>
<path transform="translate(93.5,0)scale(.206452,1)rotate(15)" d="M0 0H-85"/>
<path transform="translate(95.5,0)scale(.206452,1)rotate(18)" d="M0 0H-83"/>
<path transform="translate(97.5,0)scale(.206452,1)rotate(21)" d="M0 0H-80"/>
<path transform="translate(99.5,0)scale(.206452,1)rotate(24)" d="M0 0H-78"/>
<path transform="translate(101.5,0)scale(.206452,1)rotate(26)" d="M0 0H-75"/>
<path transform="translate(103.5,0)scale(.206452,1)rotate(28)" d="M0 0H-72"/>
<path transform="translate(108,0)scale(.206452,1)rotate(10)" d="M0 0H-10"/>
<path transform="translate(109,0)scale(.206452,1)rotate(10.6)" d="M0 0H-14.2"/>
<path transform="translate(110,0)scale(.206452,1)rotate(11.1)" d="M0 0H-18.3"/>
<path transform="translate(111,0)scale(.206452,1)rotate(11.7)" d="M0 0H-22.5"/>
<path transform="translate(112,0)scale(.206452,1)rotate(12.9)" d="M0 0H-27"/>
<path transform="translate(113,0)scale(.206452,1)rotate(15)" d="M0 0H-32"/>
<path transform="translate(114,0)scale(.206452,1)rotate(17.2)" d="M0 0H-37"/>
<path transform="translate(115,0)scale(.206452,1)rotate(19.4)" d="M0 0H-42"/>
<path transform="translate(116,0)scale(.206452,1)rotate(21.5)" d="M0 0H-47"/>
<path transform="translate(117,0)scale(.206452,1)rotate(23.7)" d="M0 0H-52"/>
<path transform="translate(118,0)scale(.206452,1)rotate(27.1)" d="M0 0H-55.2"/>
<path transform="translate(119,0)scale(.206452,1)rotate(32.2)" d="M0 0H-55.6"/>
<path transform="translate(120,0)scale(.206452,1)rotate(37.3)" d="M0 0H-56"/>
<path transform="translate(121,0)scale(.206452,1)rotate(42.5)" d="M0 0H-56.4"/>
<path transform="translate(122,0)scale(.206452,1)rotate(47.6)" d="M0 0H-56.8"/>
<path transform="translate(123,0)scale(.206452,1)rotate(52.8)" d="M0 0H-57.3"/>
<path transform="translate(124,0)scale(.206452,1)rotate(57.9)" d="M0 0H-57.7"/>
<path transform="translate(125,0)scale(.206452,1)rotate(62.3)" d="M0 0H-56.9"/>
<path transform="translate(126,0)scale(.206452,1)rotate(64.2)" d="M0 0H-50.8"/>
<path transform="translate(127,0)scale(.206452,1)rotate(66)" d="M0 0H-44.8"/>
<path transform="translate(128,0)scale(.206452,1)rotate(67.8)" d="M0 0H-38.9"/>
<path transform="translate(129,0)scale(.206452,1)rotate(69.6)" d="M0 0H-32.9"/>
<path transform="translate(130,0)scale(.206452,1)rotate(71.4)" d="M0 0H-26.9"/>
<path transform="translate(131,0)scale(.206452,1)rotate(73.2)" d="M0 0H-20.9"/>
<path transform="translate(115.5,0)scale(.206452,1)rotate(15)" d="M0 0H-85"/>
<path transform="translate(117.5,0)scale(.206452,1)rotate(17)" d="M0 0H-84"/>
<path transform="translate(119.5,0)scale(.206452,1)rotate(20)" d="M0 0H-82"/>
<path transform="translate(121.5,0)scale(.206452,1)rotate(22)" d="M0 0H-80"/>
<path transform="translate(123.5,0)scale(.206452,1)rotate(24)" d="M0 0H-78"/>
<path transform="translate(125.5,0)scale(.206452,1)rotate(26)" d="M0 0H-75"/>
<path transform="translate(127.5,0)scale(.206452,1)rotate(28)" d="M0 0H-72"/>
<path transform="translate(132,0)scale(.206452,1)rotate(10)" d="M0 0H-10"/>
<path transform="translate(133,0)scale(.206452,1)rotate(10.6)" d="M0 0H-14.3"/>
<path transform="translate(134,0)scale(.206452,1)rotate(11.2)" d="M0 0H-18.7"/>
<path transform="translate(135,0)scale(.206452,1)rotate(11.7)" d="M0 0H-23"/>
<path transform="translate(136,0)scale(.206452,1)rotate(13.2)" d="M0 0H-27.9"/>
<path transform="translate(137,0)scale(.206452,1)rotate(15.5)" d="M0 0H-33.1"/>
<path transform="translate(138,0)scale(.206452,1)rotate(17.8)" d="M0 0H-38.3"/>
<path transform="translate(139,0)scale(.206452,1)rotate(20.1)" d="M0 0H-43.5"/>
<path transform="translate(140,0)scale(.206452,1)rotate(22.3)" d="M0 0H-48.8"/>
<path transform="translate(141,0)scale(.206452,1)rotate(-9)" d="M0 0H-62"/>
<path transform="translate(142,0)scale(.206452,1)rotate(-9)" d="M0 0H-65"/>
<path transform="translate(143,0)scale(.206452,1)rotate(-10)" d="M0 0H-62"/>
<path transform="translate(144,0)scale(.206452,1)rotate(40)" d="M0 0H-56.2"/>
<path transform="translate(145,0)scale(.206452,1)rotate(45.4)" d="M0 0H-56.7"/>
<path transform="translate(146,0)scale(.206452,1)rotate(50.8)" d="M0 0H-57.1"/>
<path transform="translate(147,0)scale(.206452,1)rotate(56.1)" d="M0 0H-57.5"/>
<path transform="translate(148,0)scale(.206452,1)rotate(61.5)" d="M0 0H-58"/>
<path transform="translate(149,0)scale(.206452,1)rotate(63.7)" d="M0 0H-52.4"/>
<path transform="translate(150,0)scale(.206452,1)rotate(65.6)" d="M0 0H-46.1"/>
<path transform="translate(151,0)scale(.206452,1)rotate(67.5)" d="M0 0H-39.9"/>
<path transform="translate(152,0)scale(.206452,1)rotate(69.4)" d="M0 0H-33.6"/>
<path transform="translate(153,0)scale(.206452,1)rotate(71.2)" d="M0 0H-27.5"/>
<path transform="translate(154,0)scale(.206452,1)rotate(73.1)" d="M0 0H-21.2"/>
<path transform="translate(138.5,0)scale(.206452,1)rotate(15)" d="M0 0H-84"/>
<path transform="translate(140.5,0)scale(.206452,1)rotate(18)" d="M0 0H-82"/>
<path transform="translate(145.5,0)scale(.206452,1)rotate(22)" d="M0 0H-80"/>
<path transform="translate(147.5,0)scale(.206452,1)rotate(25)" d="M0 0H-77"/>
<path transform="translate(149.5,0)scale(.206452,1)rotate(28)" d="M0 0H-73"/>
<path transform="translate(155,0)scale(.206452,1)rotate(10)" d="M0 0H-10"/>
<path transform="translate(156,0)scale(.206452,1)rotate(10.7)" d="M0 0H-15"/>
<path transform="translate(157,0)scale(.206452,1)rotate(11.3)" d="M0 0H-20"/>
<path transform="translate(158,0)scale(.206452,1)rotate(12)" d="M0 0H-25"/>
<path transform="translate(159,0)scale(.206452,1)rotate(14.6)" d="M0 0H-31"/>
<path transform="translate(160,0)scale(.206452,1)rotate(17.2)" d="M0 0H-37"/>
<path transform="translate(161,0)scale(.206452,1)rotate(19.8)" d="M0 0H-43"/>
<path transform="translate(162,0)scale(.206452,1)rotate(-12)" d="M0 0H-45"/>
<path transform="translate(163,0)scale(.206452,1)rotate(-12)" d="M0 0H-45"/>
<path transform="translate(164,0)scale(.206452,1)rotate(31.2)" d="M0 0H-55.5"/>
<path transform="translate(165,0)scale(.206452,1)rotate(37.3)" d="M0 0H-56"/>
<path transform="translate(166,0)scale(.206452,1)rotate(43.5)" d="M0 0H-56.5"/>
<path transform="translate(167,0)scale(.206452,1)rotate(49.7)" d="M0 0H-57"/>
<path transform="translate(168,0)scale(.206452,1)rotate(55.8)" d="M0 0H-57.5"/>
<path transform="translate(169,0)scale(.206452,1)rotate(62)" d="M0 0H-58"/>
<path transform="translate(170,0)scale(.206452,1)rotate(64.2)" d="M0 0H-50.8"/>
<path transform="translate(171,0)scale(.206452,1)rotate(66.3)" d="M0 0H-43.7"/>
<path transform="translate(172,0)scale(.206452,1)rotate(68.5)" d="M0 0H-36.5"/>
<path transform="translate(173,0)scale(.206452,1)rotate(70.7)" d="M0 0H-29.3"/>
<path transform="translate(174,0)scale(.206452,1)rotate(72.8)" d="M0 0H-22.2"/>
<path transform="translate(160.5,0)scale(.206452,1)rotate(16)" d="M0 0H-80"/>
<path transform="translate(164.5,0)scale(.206452,1)rotate(20)" d="M0 0H-80"/>
<path transform="translate(166.5,0)scale(.206452,1)rotate(23)" d="M0 0H-78"/>
<path transform="translate(168.5,0)scale(.206452,1)rotate(26)" d="M0 0H-75"/>
<path transform="translate(170.5,0)scale(.206452,1)rotate(28)" d="M0 0H-72"/>
<path transform="translate(175,0)scale(.206452,1)rotate(10)" d="M0 0H-10"/>
<path transform="translate(176,0)scale(.206452,1)rotate(10.6)" d="M0 0H-14.8"/>
<path transform="translate(177,0)scale(.206452,1)rotate(11.3)" d="M0 0H-19.5"/>
<path transform="translate(178,0)scale(.206452,1)rotate(11.9)" d="M0 0H-24.3"/>
<path transform="translate(179,0)scale(.206452,1)rotate(14.1)" d="M0 0H-29.8"/>
<path transform="translate(180,0)scale(.206452,1)rotate(16.6)" d="M0 0H-35.6"/>
<path transform="translate(181,0)scale(.206452,1)rotate(19.1)" d="M0 0H-41.3"/>
<path transform="translate(182,0)scale(.206452,1)rotate(21.6)" d="M0 0H-47"/>
<path transform="translate(183,0)scale(.206452,1)rotate(24)" d="M0 0H-52.7"/>
<path transform="translate(184,0)scale(.206452,1)rotate(28.6)" d="M0 0H-55.3"/>
<path transform="translate(185,0)scale(.206452,1)rotate(34.4)" d="M0 0H-55.8"/>
<path transform="translate(186,0)scale(.206452,1)rotate(40.3)" d="M0 0H-56.2"/>
<path transform="translate(187,0)scale(.206452,1)rotate(46.1)" d="M0 0H-56.7"/>
<path transform="translate(188,0)scale(.206452,1)rotate(52)" d="M0 0H-57.2"/>
<path transform="translate(189,0)scale(.206452,1)rotate(57.9)" d="M0 0H-57.7"/>
<path transform="translate(190,0)scale(.206452,1)rotate(62.6)" d="M0 0H-56"/>
<path transform="translate(191,0)scale(.206452,1)rotate(64.7)" d="M0 0H-49.1"/>
<path transform="translate(192,0)scale(.206452,1)rotate(66.8)" d="M0 0H-42.2"/>
<path transform="translate(181.5,0)scale(.206452,1)rotate(15)" d="M0 0H-85"/>
<path transform="translate(183.5,0)scale(.206452,1)rotate(18)" d="M0 0H-83"/>
<path transform="translate(185.5,0)scale(.206452,1)rotate(21)" d="M0 0H-80"/>
<path transform="translate(187.5,0)scale(.206452,1)rotate(24)" d="M0 0H-78"/>
<path transform="translate(189.5,0)scale(.206452,1)rotate(26)" d="M0 0H-75"/>
<path transform="translate(191.5,0)scale(.206452,1)rotate(28)" d="M0 0H-72"/>
</g>
</g>
<line x1="103" y1="840.15" x2="1033" y2="840.15" stroke="#000" stroke-width="2.6" stroke-dasharray="2.6 2.25"/>
</g>

<!-- TICKS & SPINES -->
<g stroke="#000" stroke-width="1.3">
<path d="M103,295.5v-5M219.25,295.5v-5M335.5,295.5v-5M451.75,295.5v-5M568,295.5v-5M684.25,295.5v-5M800.5,295.5v-5M916.75,295.5v-5M1033,295.5v-5M103,237.7h5M103,179.8h5M103,122h5"/>
<path d="M103,506.5v-5M219.25,506.5v-5M335.5,506.5v-5M451.75,506.5v-5M568,506.5v-5M684.25,506.5v-5M800.5,506.5v-5M916.75,506.5v-5M1033,506.5v-5M103,471.4h5M103,436.3h5M103,401.2h5M103,366.1h5M103,331h5"/>
<path d="M103,717.5v-5M219.25,717.5v-5M335.5,717.5v-5M451.75,717.5v-5M568,717.5v-5M684.25,717.5v-5M800.5,717.5v-5M916.75,717.5v-5M1033,717.5v-5M103,668.75h5M103,620h5M103,571.25h5"/>
<path d="M103,927.5v-5M219.25,927.5v-5M335.5,927.5v-5M451.75,927.5v-5M568,927.5v-5M684.25,927.5v-5M800.5,927.5v-5M916.75,927.5v-5M1033,927.5v-5M103,883.8h5M103,840.15h5M103,796.5h5M103,752.8h5"/>
</g>
<g fill="none" stroke="#1a1a1a" stroke-width="1.6">
<rect x="103" y="120" width="930" height="175.5"/>
<rect x="103" y="331" width="930" height="175.5"/>
<rect x="103" y="542" width="930" height="175.5"/>
<rect x="103" y="752.8" width="930" height="174.7"/>
</g>

<text x="133" y="36.5" font-size="25" textLength="840" lengthAdjust="spacingAndGlyphs">NWPS WFO-BRO: NDBC 42020 real-time validation 2022/06/15 12Z</text>

<g font-size="16.7">
<text x="121" y="92" fill="#ff0000" textLength="106" lengthAdjust="spacingAndGlyphs">NDBC 42020</text>
<text x="121" y="111.5" fill="#000000" textLength="188" lengthAdjust="spacingAndGlyphs">NWPS 2022/06/13 00Z</text>
<text x="335" y="111.5" fill="#00bfbf" textLength="187" lengthAdjust="spacingAndGlyphs">NWPS 2022/06/14 00Z</text>
<text x="549" y="111.5" fill="#0000ff" textLength="188" lengthAdjust="spacingAndGlyphs">NWPS 2022/06/15 12Z</text>
<text x="820" y="111.5" fill="#008000" textLength="177" lengthAdjust="spacingAndGlyphs">GFS-Wave 10 arc-min</text>
</g>

<g font-size="20.5" text-anchor="middle">
<text transform="translate(70,208) rotate(-90)">Sign. Wave Height [ft]</text>
<text transform="translate(59,419) rotate(-90)">Peak Period [s]</text>
<text transform="translate(48,630) rotate(-90)">Wave Dir [Deg. N]</text>
<text transform="translate(29,840) rotate(-90)">Wind Speed [kts]</text>
<text x="568" y="979">Time [UTC]</text>
</g>

<g font-size="15.5" text-anchor="middle">
<text x="103" y="317.5">06/13</text><text x="219.25" y="317.5">06/14</text><text x="335.5" y="317.5">06/15</text><text x="451.75" y="317.5">06/16</text><text x="568" y="317.5">06/17</text><text x="684.25" y="317.5">06/18</text><text x="800.5" y="317.5">06/19</text><text x="916.75" y="317.5">06/20</text><text x="1033" y="317.5">06/21</text>
<text x="103" y="528.5">06/13</text><text x="219.25" y="528.5">06/14</text><text x="335.5" y="528.5">06/15</text><text x="451.75" y="528.5">06/16</text><text x="568" y="528.5">06/17</text><text x="684.25" y="528.5">06/18</text><text x="800.5" y="528.5">06/19</text><text x="916.75" y="528.5">06/20</text><text x="1033" y="528.5">06/21</text>
<text x="103" y="739.5">06/13</text><text x="219.25" y="739.5">06/14</text><text x="335.5" y="739.5">06/15</text><text x="451.75" y="739.5">06/16</text><text x="568" y="739.5">06/17</text><text x="684.25" y="739.5">06/18</text><text x="800.5" y="739.5">06/19</text><text x="916.75" y="739.5">06/20</text><text x="1033" y="739.5">06/21</text>
<text x="103" y="949.5">06/13</text><text x="219.25" y="949.5">06/14</text><text x="335.5" y="949.5">06/15</text><text x="451.75" y="949.5">06/16</text><text x="568" y="949.5">06/17</text><text x="684.25" y="949.5">06/18</text><text x="800.5" y="949.5">06/19</text><text x="916.75" y="949.5">06/20</text><text x="1033" y="949.5">06/21</text>
</g>

<g font-size="15.5" text-anchor="end">
<text x="93" y="301.1">0</text><text x="93" y="243.3">2</text><text x="93" y="185.4">4</text><text x="93" y="127.6">6</text>
<text x="93" y="512.1">0</text><text x="93" y="477">5</text><text x="93" y="441.9">10</text><text x="93" y="406.8">15</text><text x="93" y="371.7">20</text><text x="93" y="336.6">25</text>
<text x="93" y="723.1">0</text><text x="93" y="674.4">100</text><text x="93" y="625.6">200</text><text x="93" y="576.9">300</text>
<text x="93" y="933.1">−21.0</text><text x="93" y="889.4">−10.5</text><text x="93" y="845.8">0.0</text><text x="93" y="802.1">10.5</text><text x="93" y="758.4">21.0</text>
</g>
</svg>
</body></html>
